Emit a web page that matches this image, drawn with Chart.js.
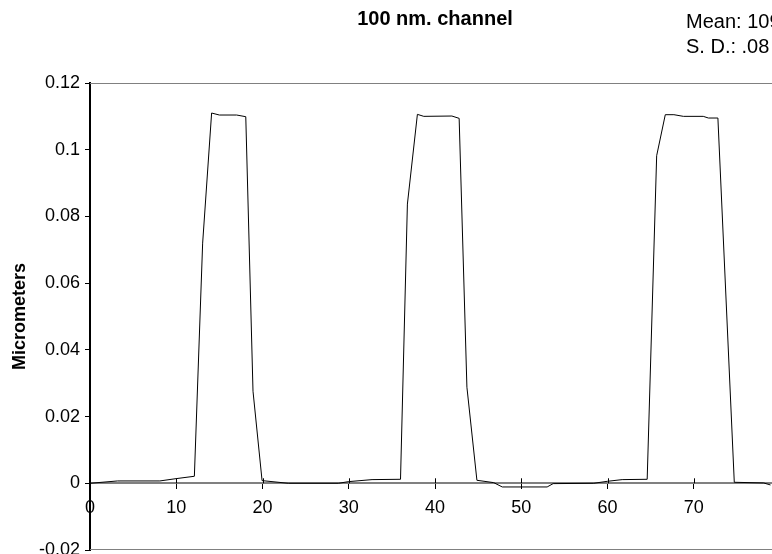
<!DOCTYPE html>
<html><head><meta charset="utf-8">
<script src="https://cdn.jsdelivr.net/npm/chart.js@4.4.1/dist/chart.umd.min.js"></script>
<style>
html,body{margin:0;padding:0;overflow:hidden;background:#fff;width:772px;height:554px}
#wrap{position:absolute;left:0;top:0;width:790px;height:574px}
</style>
</head><body><div id="wrap"><canvas id="c" width="790" height="574"></canvas></div>
<script>
const chartTitle = '100 nm. channel';
const statLines = ['Mean: 109', 'S. D.: .08'];
const yAxisTitle = 'Micrometers';

const xPositions = [0, 3.2, 8.1, 10, 12.1, 13.06, 14.1, 15.0, 17.0, 18.06, 18.9, 19.95,
  23.0, 28.8, 30.0, 32.7, 36.0, 36.8, 37.96, 38.7, 41.96, 42.8, 43.7, 44.86,
  46.8, 47.8, 53.0, 53.7, 58.4, 60.0, 61.7, 64.6, 65.7, 66.7, 67.7, 68.8,
  71.1, 71.7, 72.8, 74.7, 78.1, 78.9];
const heights = [0, 0.0007, 0.0007, 0.0014, 0.0021, 0.072, 0.111, 0.1104, 0.1104, 0.1099, 0.0276, 0.0008,
  0, 0, 0.0005, 0.0011, 0.0012, 0.0837, 0.1106, 0.110, 0.1101, 0.1094, 0.0288, 0.0009,
  0.0002, -0.0011, -0.0011, -0.0001, 0, 0.0006, 0.0011, 0.0012, 0.0982, 0.1105, 0.1105, 0.110,
  0.110, 0.1095, 0.1095, 0.0003, 0.0001, -0.0005];

const xTickValues = [0, 10, 20, 30, 40, 50, 60, 70];
const yTickValues = [-0.02, 0, 0.02, 0.04, 0.06, 0.08, 0.1, 0.12];
const yTickLabels = ['-0.02', '0', '0.02', '0.04', '0.06', '0.08', '0.1', '0.12'];

const FAMILY = '"Liberation Sans", Arial, sans-serif';

const framePlugin = {
  id: 'frame',
  beforeDatasetsDraw(chart) {
    const { ctx, chartArea: a, scales: { x, y } } = chart;
    ctx.save();
    ctx.strokeStyle = '#808080';
    ctx.lineWidth = 1;
    ctx.beginPath();
    ctx.moveTo(a.left, a.top + 0.5); ctx.lineTo(a.right, a.top + 0.5);
    ctx.lineTo(a.right, a.bottom - 0.5);
    ctx.lineTo(a.left, a.bottom - 0.5);
    ctx.stroke();
    const y0 = y.getPixelForValue(0);
    ctx.strokeStyle = '#000';
    ctx.beginPath();
    x.ticks.forEach(t => {
      const px = Math.round(x.getPixelForValue(t.value)) + 0.5;
      ctx.moveTo(px, y0 - 5); ctx.lineTo(px, y0);
    });
    ctx.stroke();
    ctx.restore();
  },
  afterDraw(chart) {
    const ctx = chart.ctx;
    ctx.save();
    ctx.fillStyle = '#000';
    ctx.font = '20px ' + FAMILY;
    ctx.textAlign = 'left';
    ctx.textBaseline = 'alphabetic';
    ctx.fillText(statLines[0], 686, 28);
    ctx.fillText(statLines[1], 686, 53);
    ctx.restore();
  }
};

new Chart(document.getElementById('c'), {
  type: 'line',
  data: {
    datasets: [{
      data: xPositions.map((v, i) => ({ x: v, y: heights[i] })),
      borderColor: '#000',
      borderWidth: 1,
      pointRadius: 0,
      tension: 0,
      fill: false
    }]
  },
  options: {
    responsive: false,
    animation: false,
    layout: { padding: { left: 0, right: 10, top: 0, bottom: 24 } },
    plugins: {
      legend: { display: false },
      tooltip: { enabled: false },
      title: {
        display: true, text: chartTitle, fullSize: false, color: '#000',
        font: { family: FAMILY, size: 20, weight: 'bold' },
        padding: { top: 7, bottom: 52 }
      }
    },
    scales: {
      x: {
        type: 'linear', min: 0, max: 80, position: { y: 0 },
        afterBuildTicks: s => { s.ticks = xTickValues.map(v => ({ value: v })); },
        grid: { display: true, drawOnChartArea: false, drawTicks: true, tickLength: 5, color: '#000', lineWidth: 1 },
        border: { display: true, color: '#808080', width: 2 },
        ticks: { color: '#000', font: { family: FAMILY, size: 18 }, padding: 9, maxRotation: 0, autoSkip: false,
          callback: v => String(v) }
      },
      y: {
        type: 'linear', min: -0.02, max: 0.12, position: 'left',
        afterBuildTicks: s => { s.ticks = yTickValues.map(v => ({ value: v })); },
        afterFit: s => { s.width = 90; },
        grid: { drawOnChartArea: false, drawTicks: true, tickLength: 5, color: '#000' },
        border: { display: true, color: '#000', width: 2 },
        ticks: { color: '#000', font: { family: FAMILY, size: 18 }, padding: 5, autoSkip: false,
          callback: (v, i) => yTickLabels[i] },
        title: { display: true, text: yAxisTitle, color: '#000',
          font: { family: FAMILY, size: 18, weight: 'bold' }, padding: { top: 9, bottom: 0 } }
      }
    }
  },
  plugins: [framePlugin]
});
</script>
</body></html>
